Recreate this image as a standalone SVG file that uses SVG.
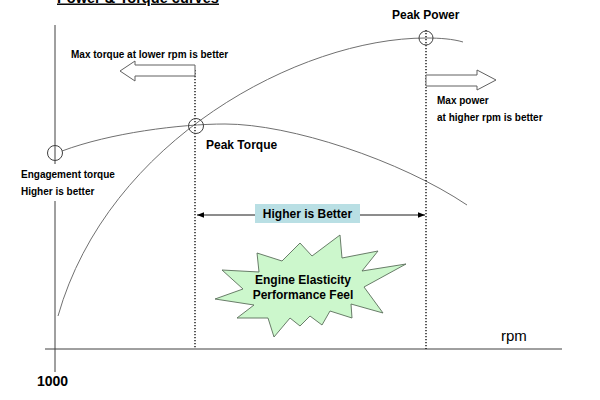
<svg xmlns="http://www.w3.org/2000/svg" width="600" height="400" viewBox="0 0 600 400">
<defs>
<style>
.t{font-family:"Liberation Sans",Arial,sans-serif;font-weight:bold;fill:#000}
.curve{fill:none;stroke:#707070;stroke-width:1}
.axis{fill:none;stroke:#404040;stroke-width:1}
.dot{fill:none;stroke:#000;stroke-width:1.3;stroke-dasharray:1.3 1.7}
.ring{fill:none;stroke:#404040;stroke-width:1}
.blk{fill:#fff;stroke:#606060;stroke-width:1}
</style>
<marker id="ah" viewBox="0 0 10 10" refX="10" refY="5" markerWidth="7" markerHeight="7" orient="auto-start-reverse" markerUnits="userSpaceOnUse">
<path d="M0,1 L10,5 L0,9 z" fill="#000"/>
</marker>
</defs>
<rect width="600" height="400" fill="#fff"/>

<g id="title">
<text class="t" x="57" y="2.5" font-size="14.6" text-decoration="underline">Power &amp; Torque curves</text>
</g>

<g id="axes">
<line class="axis" x1="55" y1="25" x2="55" y2="164"/>
<line class="axis" x1="55" y1="201" x2="55" y2="372"/>
<line class="axis" x1="45" y1="349" x2="562" y2="349"/>
</g>

<g id="curves">
<path id="power-curve" class="curve" d="M58,316 C108,140 300,38 426,38 C440,38 453,39 463,42"/>
<path id="torque-curve" class="curve" d="M62,151 C110,133 180,124 225,124 C290,124 400,160 467,205"/>
</g>

<g id="connectors">
<line class="dot" x1="195" y1="70" x2="195" y2="349"/>
<line class="dot" x1="426" y1="30" x2="426" y2="349"/>
<line x1="197" y1="215" x2="425" y2="215" stroke="#000" stroke-width="0.9" marker-start="url(#ah)" marker-end="url(#ah)"/>
<polygon class="blk" points="195,65 135,65 135,61 120,71 135,81 135,76 195,76"/>
<polygon class="blk" points="426,75 477,75 477,70 496,80 477,90 477,86 426,86"/>
</g>

<g id="peak-power">
<circle class="ring" cx="426" cy="38" r="7"/>
<text class="t" x="392" y="19" font-size="12">Peak Power</text>
</g>

<g id="peak-torque">
<circle class="ring" cx="196" cy="126" r="7.5"/>
<text class="t" x="206" y="149" font-size="12">Peak Torque</text>
</g>

<g id="engagement">
<circle class="ring" cx="55" cy="153" r="7.5"/>
<text class="t" x="21" y="178" font-size="10">Engagement torque</text>
<text class="t" x="21" y="195" font-size="10">Higher is better</text>
</g>

<g id="max-torque-note">
<text class="t" x="71" y="58" font-size="10">Max torque at lower rpm is better</text>
</g>

<g id="max-power-note">
<text class="t" x="437" y="104" font-size="10">Max power</text>
<text class="t" x="437" y="121" font-size="10">at higher rpm is better</text>
</g>

<g id="higher-better">
<rect x="255" y="204" width="105" height="19" fill="#b9dfe4"/>
<text class="t" x="307.5" y="218" font-size="12" text-anchor="middle">Higher is Better</text>
</g>

<g id="elasticity">
<polygon points="257,253 282,261 300,243 312,256 340,235 342,258 378,251 362,271 406,264 364,287 383,313 351,304 352,318 330,311 322,325 310,316 300,326 290,318 274,337 268,318 237,318 254,305 215,299 243,289 222,270 259,272" fill="#ccf7cc" stroke="#5a6e5a" stroke-width="0.9"/>
<text class="t" x="303" y="284" font-size="12" text-anchor="middle">Engine Elasticity</text>
<text class="t" x="303" y="299" font-size="12" text-anchor="middle">Performance Feel</text>
</g>

<g id="axis-labels">
<text x="501" y="341" font-family="Liberation Sans, Arial, sans-serif" font-size="15" fill="#000">rpm</text>
<text class="t" x="37" y="386" font-size="14">1000</text>
</g>
</svg>
